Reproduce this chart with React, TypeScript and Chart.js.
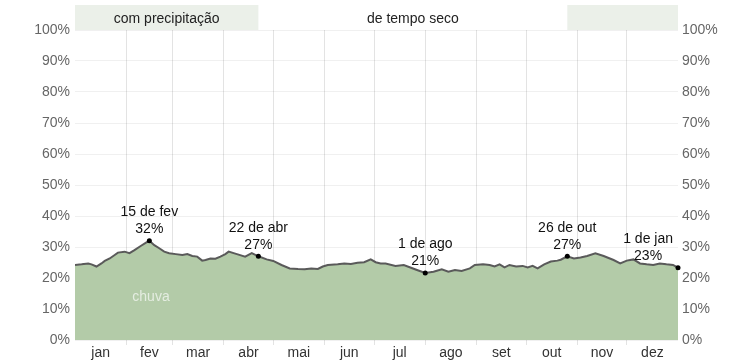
import React, { useEffect, useRef } from "react";
import { Chart, registerables } from "chart.js";

Chart.register(...registerables);

// Day of year (0 = 1 Jan, 365 = 1 Jan of next year) and chance of rain (%)
const rainDays = [
  0, 4, 8, 10, 13, 16, 18, 21, 24, 26, 30, 33, 36, 40, 43, 45, 48, 51, 54, 57,
  61, 65, 68, 71, 74, 77, 79, 82, 85, 88, 91, 93, 98, 103, 107, 111, 116, 120,
  125, 130, 135, 139, 143, 147, 150, 153, 159, 163, 167, 171, 175, 179, 182,
  185, 188, 194, 199, 203, 207, 212, 217, 222, 226, 230, 234, 239, 242, 247,
  251, 254, 257, 260, 263, 267, 271, 274, 277, 280, 284, 288, 292, 294, 298,
  302, 306, 310, 315, 320, 326, 330, 334, 338, 342, 346, 350, 354, 358, 362, 365,
];
const rainValues = [
  24.2, 24.4, 24.7, 24.4, 23.7, 24.7, 25.5, 26.3, 27.4, 28.2, 28.5, 28.0, 29.0,
  30.4, 31.4, 32.0, 30.6, 29.6, 28.5, 28.0, 27.7, 27.4, 27.7, 27.1, 26.9, 25.6,
  25.8, 26.3, 26.2, 26.9, 27.7, 28.5, 27.7, 26.9, 28.0, 27.0, 26.0, 25.5, 24.2,
  23.1, 22.9, 22.8, 23.1, 22.9, 23.7, 24.2, 24.4, 24.7, 24.5, 24.9, 25.1, 26.0,
  25.1, 24.7, 24.7, 23.9, 24.2, 23.4, 22.6, 21.6, 22.0, 22.8, 22.0, 22.6, 22.3,
  23.1, 24.2, 24.4, 24.2, 23.7, 24.4, 23.4, 24.2, 23.7, 23.9, 23.4, 23.9, 23.1,
  24.4, 25.3, 25.6, 25.9, 27.0, 26.3, 26.6, 27.1, 28.0, 27.1, 25.8, 24.7, 25.6,
  26.0, 24.7, 24.4, 24.2, 24.7, 24.4, 24.2, 23.3,
];

const monthStarts = [0, 31, 59, 90, 120, 151, 181, 212, 243, 273, 304, 334, 365];
const monthNames = ["jan", "fev", "mar", "abr", "mai", "jun", "jul", "ago", "set", "out", "nov", "dez"];

const yTicks = [0, 10, 20, 30, 40, 50, 60, 70, 80, 90, 100];

const annotDays = [45, 111, 212, 298, 365];
const annotDates = ["15 de fev", "22 de abr", "1 de ago", "26 de out", "1 de jan"];
const annotValues = [32, 27, 21, 27, 23];

// Season bands on top: [startDay, endDay, label, shaded]
const bandStarts = [0, 111, 298];
const bandEnds = [111, 298, 365];
const bandLabels = ["com precipitação", "de tempo seco", ""];
const bandShaded = [true, false, true];

const FONT = "'Liberation Sans', Arial, sans-serif";

export default function App() {
  const ref = useRef<HTMLCanvasElement | null>(null);

  useEffect(() => {
    const canvas = ref.current;
    if (!canvas) return;

    const boundaries = monthStarts.slice(1, -1);
    const mids = monthNames.map((_, i) => (monthStarts[i] + monthStarts[i + 1]) / 2);
    const isBoundary = (v: number) => boundaries.indexOf(v) >= 0;

    const overlay = {
      id: "overlay",
      beforeDraw(chart: any) {
        const { ctx, chartArea } = chart;
        const xs = chart.scales.x;
        ctx.save();
        for (let i = 0; i < bandStarts.length; i++) {
          const x0 = xs.getPixelForValue(bandStarts[i]);
          const x1 = xs.getPixelForValue(bandEnds[i]);
          if (bandShaded[i]) {
            ctx.fillStyle = "#ebf0e9";
            ctx.fillRect(x0, chartArea.top - 25, x1 - x0, 25);
          }
          if (bandLabels[i]) {
            ctx.fillStyle = "#222";
            ctx.font = `14px ${FONT}`;
            ctx.textAlign = "center";
            ctx.textBaseline = "middle";
            ctx.fillText(bandLabels[i], (x0 + x1) / 2, chartArea.top - 11);
          }
        }
        ctx.restore();
      },
      afterDraw(chart: any) {
        const { ctx, chartArea } = chart;
        const xs = chart.scales.x;
        const ys = chart.scales.y;
        ctx.save();
        // series label
        ctx.fillStyle = "rgba(255,255,255,0.65)";
        ctx.font = `14px ${FONT}`;
        ctx.textAlign = "center";
        ctx.textBaseline = "middle";
        ctx.fillText("chuva", xs.getPixelForValue(46), ys.getPixelForValue(13.7));

        for (let i = 0; i < annotDays.length; i++) {
          const d = annotDays[i];
          const idx = rainDays.indexOf(d);
          const v = idx >= 0 ? rainValues[idx] : annotValues[i];
          const px = xs.getPixelForValue(d);
          const py = ys.getPixelForValue(v);
          ctx.fillStyle = "#000";
          ctx.beginPath();
          ctx.arc(px, py, 2.5, 0, Math.PI * 2);
          ctx.fill();

          ctx.font = `14px ${FONT}`;
          const w = Math.max(ctx.measureText(annotDates[i]).width, ctx.measureText(annotValues[i] + "%").width);
          let cx = px;
          if (cx + w / 2 > chartArea.right - 5) cx = chartArea.right - 5 - w / 2;
          if (cx - w / 2 < chartArea.left + 5) cx = chartArea.left + 5 + w / 2;
          ctx.fillStyle = "#111";
          ctx.textAlign = "center";
          ctx.textBaseline = "middle";
          ctx.fillText(annotDates[i], cx, py - 28.5);
          ctx.fillText(annotValues[i] + "%", cx, py - 11.5);
        }
        ctx.restore();
      },
    };

    const chart = new Chart(canvas, {
      type: "line",
      data: {
        datasets: [
          {
            label: "chuva",
            data: rainDays.map((d, i) => ({ x: d, y: rainValues[i] })),
            borderColor: "#5a5a5a",
            borderWidth: 2,
            backgroundColor: "#b3cba8",
            fill: "origin",
            pointRadius: 0,
            tension: 0,
          },
        ],
      },
      options: {
        responsive: false,
        animation: false,
        layout: { padding: { top: 30, left: 0, right: 0, bottom: 0 } },
        plugins: { legend: { display: false }, tooltip: { enabled: false } },
        scales: {
          x: {
            type: "linear",
            min: 0,
            max: 365,
            z: 1,
            border: { display: false },
            grid: {
              color: (c: any) => (c.tick && isBoundary(c.tick.value) ? "rgba(0,0,0,0.11)" : "rgba(0,0,0,0)"),
              tickColor: (c: any) => (c.tick && isBoundary(c.tick.value) ? "rgba(0,0,0,0.11)" : "rgba(0,0,0,0)"),
              tickLength: 5,
              drawTicks: true,
            },
            afterBuildTicks: (s: any) => {
              s.ticks = [...boundaries, ...mids].map((v) => ({ value: v }));
            },
            afterFit: (s: any) => {
              s.height = 22;
            },
            ticks: {
              autoSkip: false,
              maxRotation: 0,
              padding: 0,
              color: "#333",
              font: { family: FONT, size: 14 },
              callback: (v: any) => {
                const i = mids.indexOf(Number(v));
                return i >= 0 ? monthNames[i] : "";
              },
            },
          },
          y: {
            position: "left",
            min: 0,
            max: 100,
            border: { display: false },
            grid: { color: "rgba(0,0,0,0.06)", drawTicks: false },
            afterBuildTicks: (s: any) => {
              s.ticks = yTicks.map((v) => ({ value: v }));
            },
            afterFit: (s: any) => {
              s.width = 75;
            },
            ticks: {
              padding: 5,
              color: "#666",
              font: { family: FONT, size: 14 },
              callback: (v: any) => v + "%",
            },
          },
          y2: {
            position: "right",
            min: 0,
            max: 100,
            border: { display: false },
            grid: { display: false, drawTicks: false },
            afterBuildTicks: (s: any) => {
              s.ticks = yTicks.map((v) => ({ value: v }));
            },
            afterFit: (s: any) => {
              s.width = 75;
            },
            ticks: {
              padding: 4,
              color: "#666",
              font: { family: FONT, size: 14 },
              callback: (v: any) => v + "%",
            },
          },
        },
      },
      plugins: [overlay],
    } as any);

    return () => chart.destroy();
  }, []);

  return (
    <div style={{ position: "absolute", left: 0, top: 0, width: 753, height: 362, background: "#fff" }}>
      <canvas ref={ref} width={753} height={362} style={{ display: "block" }} />
    </div>
  );
}
